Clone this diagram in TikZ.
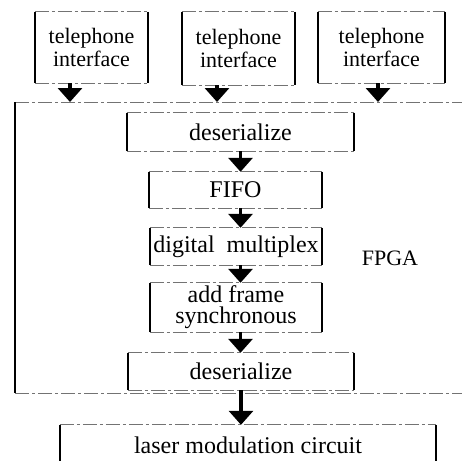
\documentclass[tikz,border=0pt]{standalone}
\usepackage{fontspec}
\setmainfont{Liberation Serif}
\usetikzlibrary{arrows.meta}
\newcommand{\drawbox}[1]{%
  \draw[hline] (#1.north west) -- (#1.north east);
  \draw[hline] (#1.south west) -- (#1.south east);
  \draw[vline] (#1.north west) -- (#1.south west);
  \draw[vline] (#1.north east) -- (#1.south east);}
\begin{document}
\begin{tikzpicture}[x=1pt,y=-1pt,
  blk/.style={inner sep=0pt, font=\fontsize{24}{21}\selectfont, align=center},
  telblk/.style={blk, font=\fontsize{22}{23}\selectfont},
  hline/.style={draw=black!55, line width=0.9pt, dash pattern=on 14pt off 3pt on 3pt off 3pt},
  vline/.style={draw=black, line width=2.4pt},
  flow/.style={draw=black, line width=3.2pt, -{Triangle[width=24pt,length=14pt]}}]
\useasboundingbox (0,0) rectangle (462,460);
\fill[white] (0,0) rectangle (462,460);
\clip (0,0) rectangle (462,460);

% telephone interfaces
\node[telblk, minimum width=113pt, minimum height=71pt] (tel1) at (91.5,47.5) {telephone\\interface};
\node[telblk, minimum width=113pt, minimum height=73pt] (tel2) at (238.5,48.5) {telephone\\interface};
\node[telblk, minimum width=127pt, minimum height=71pt] (tel3) at (381.5,47.5) {telephone\\interface};
\drawbox{tel1}\drawbox{tel2}\drawbox{tel3}

% FPGA frame
\coordinate (fpgaNW) at (15,102);
\coordinate (fpgaSW) at (15,393);
\coordinate (fpgaNE) at (470,102);
\coordinate (fpgaSE) at (470,393);
\draw[hline] (fpgaNW) -- (fpgaNE);
\draw[hline] (fpgaSW) -- (fpgaSE);
\draw[vline] (fpgaNW) -- (fpgaSW);
\node[font=\fontsize{22}{24}\selectfont, inner sep=0pt] (fpgalabel) at (390,258) {FPGA};

% inner chain
\node[blk, minimum width=227pt, minimum height=38pt] (des1) at (240.5,132) {deserialize};
\node[blk, minimum width=173pt, minimum height=36pt] (fifo) at (235.5,190) {FIFO};
\node[blk, minimum width=172pt, minimum height=37pt] (dig) at (236,246.5) {digital\ \ multiplex};
\node[blk, minimum width=172pt, minimum height=49pt] (add) at (236,307.5) {add frame\\synchronous};
\node[blk, minimum width=226pt, minimum height=37pt] (des2) at (241,371.5) {deserialize};
\node[blk, minimum width=376pt, minimum height=40pt] (laser) at (248,445) {laser modulation circuit};
\drawbox{des1}\drawbox{fifo}\drawbox{dig}\drawbox{add}\drawbox{des2}\drawbox{laser}

% arrows
\draw[flow] ([xshift=-21.5pt]tel1.south) -- ([xshift=-21.5pt]tel1.south |- fpgaNW);
\draw[flow] ([xshift=-21.5pt]tel2.south) -- ([xshift=-21.5pt]tel2.south |- fpgaNW);
\draw[flow] ([xshift=-3.5pt]tel3.south) -- ([xshift=-3.5pt]tel3.south |- fpgaNW);
\draw[flow] (des1.south) -- (fifo.north -| des1.south);
\draw[flow] (fifo.south -| des1.south) -- (dig.north -| des1.south);
\draw[flow] (dig.south -| des1.south) -- (add.north -| des1.south);
\draw[flow] (add.south -| des1.south) -- (des2.north -| des1.south);
\draw[flow] (des2.south) -- (laser.north -| des2.south);
\end{tikzpicture}
\end{document}
